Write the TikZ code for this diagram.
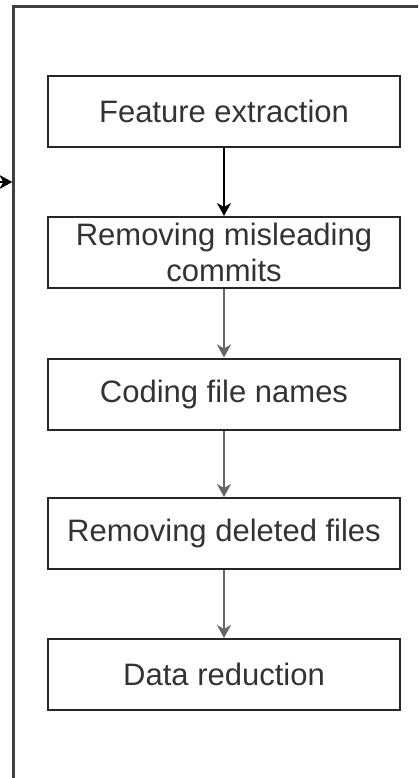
\documentclass[tikz,border=0pt]{standalone}
\usepackage{fontspec}
\setmainfont{Liberation Sans}
\usetikzlibrary{arrows.meta}
\begin{document}
\begin{tikzpicture}[x=1pt,y=-1pt,
  stepbox/.style={draw=black!85, line width=2pt, rectangle,
    minimum width=352pt, minimum height=71pt, inner sep=0pt,
    align=center, text=black!80,
    font=\fontsize{31}{36}\selectfont},
  flow/.style={line width=2pt, -{Stealth[length=13pt,width=14pt,inset=4pt]}},
  frame/.style={line width=2.2pt, draw=black!75}]
\useasboundingbox (0,0) rectangle (418,778);
\clip (0,0) rectangle (418,778);

% container outline (only its top and left sides fall inside the view)
\coordinate (frameBL) at (13.5,800);
\coordinate (frameTR) at (440,6.5);
\draw[frame] (frameBL) |- (frameTR);

% incoming arrow from the left
\coordinate (inStart) at (-30,182);
\coordinate (inEnd) at (12.4,182);
\draw[flow, draw=black] (inStart) -- (inEnd);

% processing steps
\node[stepbox] (fe) at (224,111.5) {Feature extraction};
\node[stepbox] (rm) at (224,252.5) {Removing misleading\\commits};
\node[stepbox] (cf) at (224,394) {Coding file names};
\node[stepbox] (rd) at (224,533.5) {Removing deleted files};
\node[stepbox] (dr) at (224,674.5) {Data reduction};

\draw[flow, draw=black] (fe) -- (rm);
\draw[flow, draw=black!60] (rm) -- (cf);
\draw[flow, draw=black!60] (cf) -- (rd);
\draw[flow, draw=black!60] (rd) -- (dr);
\end{tikzpicture}
\end{document}
